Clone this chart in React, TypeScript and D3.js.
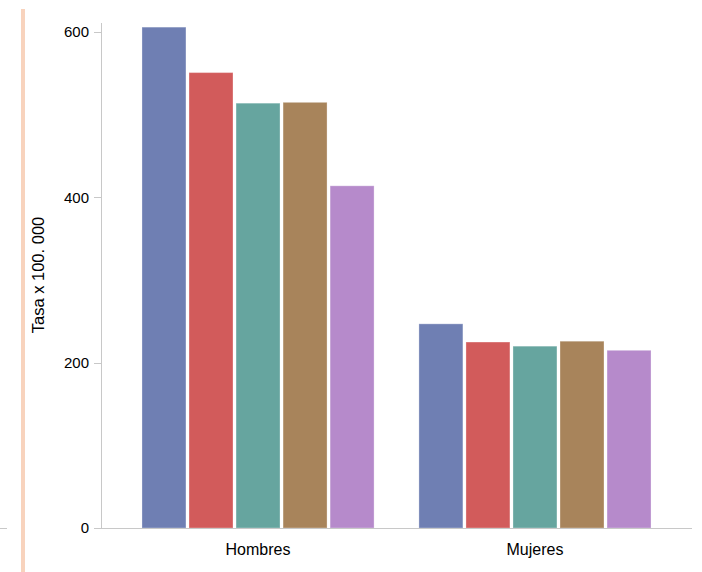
import React from "react";
import * as d3 from "d3";

const categories = ["Hombres", "Mujeres"];
const seriesNames = ["s1", "s2", "s3", "s4", "s5"];
const hombres = [606, 551, 514, 515, 414];
const mujeres = [247, 225, 220, 226, 215];
const yTicks = [0, 200, 400, 600];
const colors = ["#6f7fb3", "#d25b5b", "#66a59f", "#a8845b", "#b68acb"];

const W = 702;
const H = 572;

export default function App() {
  const values = [hombres, mujeres];
  const y = d3.scaleLinear().domain([0, 611]).range([528, 23]);
  const x0 = d3.scaleBand().domain(categories).range([101, 692]).paddingInner(0.162).paddingOuter(0.148);
  const x1 = d3.scaleBand().domain(seriesNames).range([0, x0.bandwidth()]).paddingInner(0.065).paddingOuter(0);
  const axisColor = "#c8c8c8";
  return (
    <svg width={W} height={H} style={{ position: "absolute", left: 0, top: 0, fontFamily: "Liberation Sans, Arial, sans-serif" }}>
      <rect x={21} y={9} width={4} height={H - 9} fill="#f8d3bd" />
      <line x1={0} x2={7} y1={528.5} y2={528.5} stroke={axisColor} />
      {categories.map((c, ci) =>
        values[ci].map((v, si) => (
          <rect
            key={c + si}
            x={(x0(c) as number) + (x1(seriesNames[si]) as number)}
            y={y(v)}
            width={x1.bandwidth()}
            height={y(0) - y(v)}
            fill={colors[si]}
            stroke="#ffffff"
            strokeOpacity={0.3}
            strokeWidth={1}
          />
        ))
      )}
      <line x1={101.5} x2={101.5} y1={y.range()[1]} y2={y(0)} stroke={axisColor} />
      <line x1={101} x2={692} y1={y(0) + 0.5} y2={y(0) + 0.5} stroke={axisColor} />
      {yTicks.map((t) => (
        <g key={t}>
          <line x1={94} x2={101} y1={Math.round(y(t)) + 0.5} y2={Math.round(y(t)) + 0.5} stroke={axisColor} />
          <text x={89} y={y(t)} dy="0.36em" textAnchor="end" fontSize={15} fill="#000">
            {t}
          </text>
        </g>
      ))}
      {categories.map((c) => (
        <text key={c} x={(x0(c) as number) + x0.bandwidth() / 2} y={555} textAnchor="middle" fontSize={16} fill="#000">
          {c}
        </text>
      ))}
      <text transform={`translate(44,275) rotate(-90)`} textAnchor="middle" fontSize={16.5} fill="#000">
        Tasa x 100. 000
      </text>
    </svg>
  );
}
